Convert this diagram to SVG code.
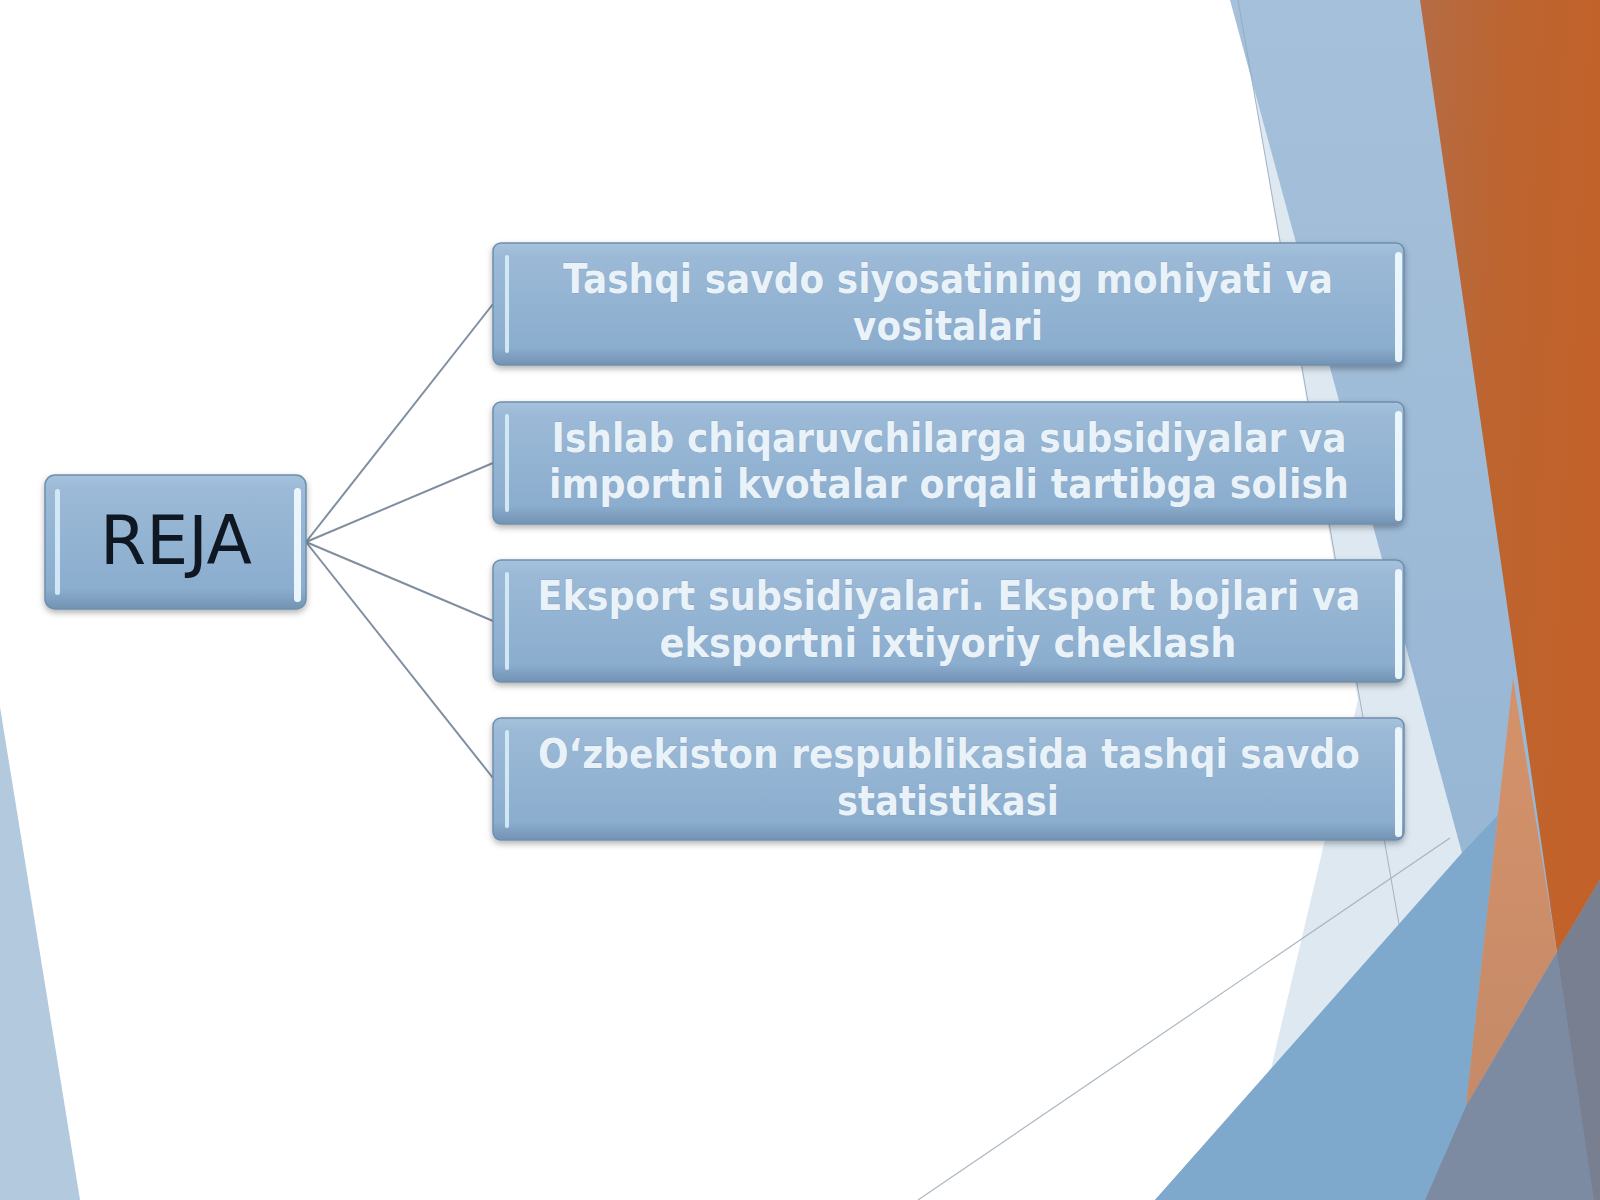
<svg xmlns="http://www.w3.org/2000/svg" width="1600" height="1200" viewBox="0 0 1600 1200">
  <defs>
    <linearGradient id="boxGrad" x1="0" y1="0" x2="0" y2="1">
      <stop offset="0" stop-color="#a6c2dd"/>
      <stop offset="0.1" stop-color="#9cbad7"/>
      <stop offset="0.85" stop-color="#8badce"/>
      <stop offset="1" stop-color="#7393b3"/>
    </linearGradient>
    <linearGradient id="bandGrad" x1="0" y1="0" x2="0" y2="1">
      <stop offset="0" stop-color="#a5c0da"/>
      <stop offset="1" stop-color="#92b3d2"/>
    </linearGradient>
    <linearGradient id="orangeGrad" x1="0" y1="0" x2="1" y2="0.3">
      <stop offset="0" stop-color="#b56c45"/>
      <stop offset="0.5" stop-color="#bd642f"/>
      <stop offset="1" stop-color="#c2622a"/>
    </linearGradient>
    <linearGradient id="salmonGrad" x1="0" y1="0" x2="0" y2="1">
      <stop offset="0" stop-color="#d5926a"/>
      <stop offset="1" stop-color="#c58a68"/>
    </linearGradient>
    <filter id="shadow" x="-5%" y="-10%" width="110%" height="130%">
      <feDropShadow dx="0" dy="3" stdDeviation="3" flood-color="#000000" flood-opacity="0.3"/>
    </filter>
    <style>
      .box { fill: url(#boxGrad); stroke: #6e8eac; stroke-width: 1.5; }
      .hl-l { fill: #d9edf8; opacity: 0.9; }
      .hl-r { fill: #eaf6fc; }
      .label { font-family: "DejaVu Sans", Verdana, sans-serif; font-weight: bold; font-size: 40px; fill: #e9f2f8; text-anchor: middle; stroke: #7896b3; stroke-width: 0.6; paint-order: stroke; }
      .title { font-family: "DejaVu Sans", Verdana, sans-serif; font-size: 68px; fill: #0e1722; text-anchor: middle; }
      .conn { stroke: #7f8fa0; stroke-width: 2; fill: none; }
    </style>
  </defs>

  <g id="background">
    <rect x="0" y="0" width="1600" height="1200" fill="#ffffff"/>
    <polygon points="0,707 0,1200 80,1200" fill="#b3c9de"/>
    <polygon points="1238,0 1600,0 1600,1200 1240,1200 1358,700" fill="#dde8f1"/>
    <polygon points="1230,0 1600,0 1600,1200 1155,1200 1462,853" fill="url(#bandGrad)"/>
    <polygon points="1462,853 1498,815 1466,1106 1425,1200 1155,1200" fill="#7ea8cc"/>
    <polygon points="1420,0 1600,0 1600,880 1557,952" fill="url(#orangeGrad)"/>
    <polygon points="1513,678 1557,952 1466,1106" fill="url(#salmonGrad)"/>
    <polygon points="1557,952 1600,880 1600,1200 1425,1200 1466,1106" fill="#7c8ba2"/>
    <polygon points="1557,952 1600,880 1600,1200 1594,1200" fill="#777f90"/>
    <line x1="1238" y1="0" x2="1400" y2="930" stroke="#95a6b8" stroke-width="1" opacity="0.8"/>
    <line x1="918" y1="1200" x2="1450" y2="838" stroke="#9eabb9" stroke-width="1.2" opacity="0.85"/>
  </g>

  <g id="connectors">
    <line class="conn" x1="306" y1="542" x2="493" y2="304"/>
    <line class="conn" x1="306" y1="542" x2="493" y2="463"/>
    <line class="conn" x1="306" y1="542" x2="493" y2="621"/>
    <line class="conn" x1="306" y1="542" x2="493" y2="778"/>
  </g>

  <g id="node-reja">
    <rect class="box" x="45" y="475" width="261" height="134" rx="10" filter="url(#shadow)"/>
    <rect class="hl-l" x="55" y="489" width="5" height="106" rx="2.5"/>
    <rect class="hl-r" x="294" y="488" width="7" height="114" rx="3.5"/>
    <text class="title" x="176" y="564" textLength="152" lengthAdjust="spacingAndGlyphs">REJA</text>
  </g>

  <g id="node-1">
    <rect class="box" x="493" y="243" width="911" height="122" rx="8" filter="url(#shadow)"/>
    <rect class="hl-l" x="505" y="255" width="4" height="98" rx="2"/>
    <rect class="hl-r" x="1395" y="252" width="7" height="110" rx="3.5"/>
    <text class="label" x="948" y="293" textLength="770" lengthAdjust="spacingAndGlyphs">Tashqi savdo siyosatining mohiyati va</text>
    <text class="label" x="948" y="340" textLength="190" lengthAdjust="spacingAndGlyphs">vositalari</text>
  </g>

  <g id="node-2">
    <rect class="box" x="493" y="402" width="911" height="122" rx="8" filter="url(#shadow)"/>
    <rect class="hl-l" x="505" y="414" width="4" height="98" rx="2"/>
    <rect class="hl-r" x="1395" y="411" width="7" height="110" rx="3.5"/>
    <text class="label" x="949" y="452" textLength="795" lengthAdjust="spacingAndGlyphs">Ishlab chiqaruvchilarga subsidiyalar va</text>
    <text class="label" x="949" y="498" textLength="800" lengthAdjust="spacingAndGlyphs">importni kvotalar orqali tartibga solish</text>
  </g>

  <g id="node-3">
    <rect class="box" x="493" y="560" width="911" height="122" rx="8" filter="url(#shadow)"/>
    <rect class="hl-l" x="505" y="572" width="4" height="98" rx="2"/>
    <rect class="hl-r" x="1395" y="569" width="7" height="110" rx="3.5"/>
    <text class="label" x="949" y="610" textLength="823" lengthAdjust="spacingAndGlyphs">Eksport subsidiyalari. Eksport bojlari va</text>
    <text class="label" x="948" y="657" textLength="577" lengthAdjust="spacingAndGlyphs">eksportni ixtiyoriy cheklash</text>
  </g>

  <g id="node-4">
    <rect class="box" x="493" y="718" width="911" height="122" rx="8" filter="url(#shadow)"/>
    <rect class="hl-l" x="505" y="730" width="4" height="98" rx="2"/>
    <rect class="hl-r" x="1395" y="727" width="7" height="110" rx="3.5"/>
    <text class="label" x="949" y="768" textLength="822" lengthAdjust="spacingAndGlyphs">O‘zbekiston respublikasida tashqi savdo</text>
    <text class="label" x="948" y="815" textLength="222" lengthAdjust="spacingAndGlyphs">statistikasi</text>
  </g>
</svg>
